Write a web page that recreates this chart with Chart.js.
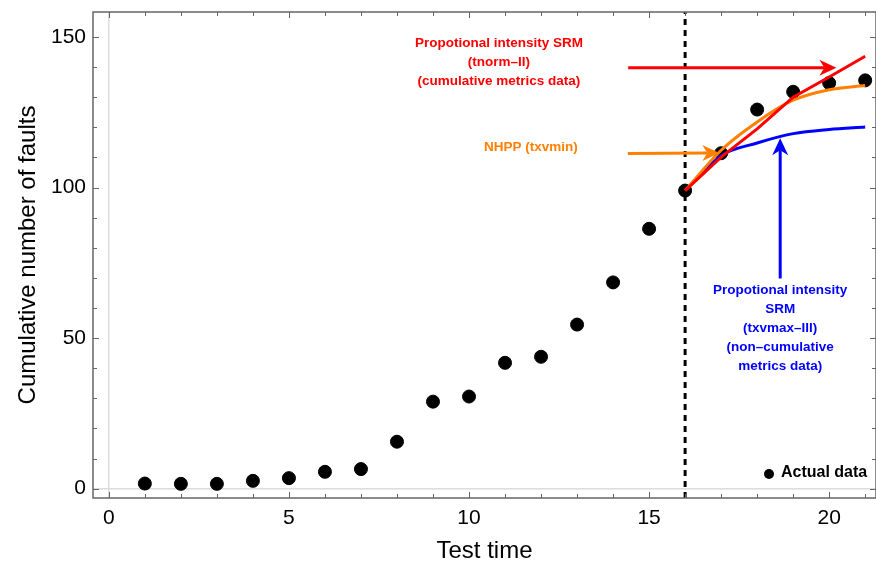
<!DOCTYPE html>
<html lang="en">
<head>
    <meta charset="UTF-8">
    <title>Cumulative number of faults</title>
    <script src="https://cdn.jsdelivr.net/npm/chart.js"></script>
    <style>
        body {
            margin: 0;
            padding: 0;
            background: #fff;
            overflow: hidden;
        }
        canvas {
            display: block;
        }
    </style>
</head>
<body>

<canvas id="faultChart" width="876" height="566"></canvas>

<script>
    // actual data
    const testTime = [1, 2, 3, 4, 5, 6, 7, 8, 9, 10, 11, 12, 13, 14, 15, 16, 17, 18, 19, 20, 21];
    const actualFaults = [1.7, 1.6, 1.6, 2.6, 3.5, 5.6, 6.5, 15.6, 28.9, 30.6, 41.8, 43.8, 54.5, 68.5, 86.3, 99, 111.4, 125.9, 131.8, 134.7, 135.6];

    // predictions after the cut-off
    const predTime = [16, 17, 18, 19, 20, 21];
    const srmCumulative = [99, 110.1, 119.5, 130, 136.7, 143.6];   // red, tnorm-II
    const nhppTxvmin = [99, 112.4, 121.8, 129, 132.5, 133.9];      // orange
    const srmNonCumulative = [99, 110.6, 114.8, 117.9, 119.3, 120.1]; // blue, txvmax-III

    const cutoffTime = 16;

    const xMajorTicks = [0, 5, 10, 15, 20];
    const yMajorTicks = [0, 50, 100, 150];

    const X_MIN = -0.44, X_MAX = 21.3;
    const Y_MIN = -3.1, Y_MAX = 158.3;

    // annotations (data coordinates)
    const arrows = [
        { color: '#ff0000', x: [14.42, 20.2], y: [139.8, 139.8] },
        { color: '#ff8000', x: [14.41, 16.95], y: [111.3, 111.5] },
        { color: '#0000ff', x: [18.64, 18.64], y: [69.8, 116.4] }
    ];
    const notes = [
        { color: '#ff0000', x: 10.83, y: 147.9, lines: ['Propotional intensity SRM', '(tnorm\u2013II)', '(cumulative metrics data)'] },
        { color: '#ff8000', x: 11.72, y: 113.3, lines: ['NHPP (txvmin)'] },
        { color: '#0000ff', x: 18.64, y: 65.9, lines: ['Propotional intensity', 'SRM', '(txvmax\u2013III)', '(non\u2013cumulative', 'metrics data)'] }
    ];

    const FONT = '"Liberation Sans", Arial, sans-serif';

    function drawArrowHead(ctx, x0, y0, x1, y1, color) {
        const ang = Math.atan2(y1 - y0, x1 - x0);
        const len = 17, half = 8, notch = 5;
        ctx.save();
        ctx.translate(x1, y1);
        ctx.rotate(ang);
        ctx.fillStyle = color;
        ctx.beginPath();
        ctx.moveTo(0, 0);
        ctx.lineTo(-len, -half);
        ctx.lineTo(-len + notch, 0);
        ctx.lineTo(-len, half);
        ctx.closePath();
        ctx.fill();
        ctx.restore();
    }

    const framePlugin = {
        id: 'frame',
        afterDatasetsDraw(chart) {
            const ctx = chart.ctx;
            const xs = chart.scales.x, ys = chart.scales.y;
            const a = chart.chartArea;

            // arrows
            arrows.forEach(ar => {
                const x0 = xs.getPixelForValue(ar.x[0]), y0 = ys.getPixelForValue(ar.y[0]);
                const x1 = xs.getPixelForValue(ar.x[1]), y1 = ys.getPixelForValue(ar.y[1]);
                const ang = Math.atan2(y1 - y0, x1 - x0);
                ctx.save();
                ctx.strokeStyle = ar.color;
                ctx.lineWidth = 3;
                ctx.beginPath();
                ctx.moveTo(x0, y0);
                ctx.lineTo(x1 - 12 * Math.cos(ang), y1 - 12 * Math.sin(ang));
                ctx.stroke();
                ctx.restore();
                drawArrowHead(ctx, x0, y0, x1, y1, ar.color);
            });

            // text notes
            ctx.save();
            ctx.font = 'bold 13.5px ' + FONT;
            ctx.textAlign = 'center';
            ctx.textBaseline = 'middle';
            notes.forEach(n => {
                ctx.fillStyle = n.color;
                const cx = xs.getPixelForValue(n.x), cy = ys.getPixelForValue(n.y);
                n.lines.forEach((line, i) => ctx.fillText(line, cx, cy + i * 19));
            });
            ctx.restore();

            // legend
            ctx.save();
            ctx.fillStyle = '#000';
            ctx.beginPath();
            ctx.arc(769, 474, 5, 0, Math.PI * 2);
            ctx.fill();
            ctx.font = 'bold 16px ' + FONT;
            ctx.textBaseline = 'middle';
            ctx.fillText('Actual data', 781, 473);
            ctx.restore();

            // frame and inward ticks
            ctx.save();
            ctx.strokeStyle = '#666';
            ctx.lineWidth = 1.5;
            ctx.strokeRect(a.left, a.top, a.right - a.left, a.bottom - a.top);
            ctx.lineWidth = 1;
            ctx.beginPath();
            for (let v = 0; v <= 21; v++) {
                const px = Math.round(xs.getPixelForValue(v)) + 0.5;
                const len = v % 5 === 0 ? 6 : 4;
                ctx.moveTo(px, a.bottom); ctx.lineTo(px, a.bottom - len);
                ctx.moveTo(px, a.top); ctx.lineTo(px, a.top + len);
            }
            for (let v = 0; v <= 150; v += 10) {
                const py = Math.round(ys.getPixelForValue(v)) + 0.5;
                const len = v % 50 === 0 ? 6 : 4;
                ctx.moveTo(a.left, py); ctx.lineTo(a.left + len, py);
                ctx.moveTo(a.right, py); ctx.lineTo(a.right - len, py);
            }
            ctx.stroke();
            ctx.restore();
        }
    };

    function toPoints(xv, yv) {
        return xv.map((x, i) => ({ x: x, y: yv[i] }));
    }

    const ctx = document.getElementById('faultChart').getContext('2d');
    new Chart(ctx, {
        type: 'scatter',
        data: {
            datasets: [
                {
                    label: 'Actual data',
                    data: toPoints(testTime, actualFaults),
                    backgroundColor: '#000',
                    borderColor: '#000',
                    pointRadius: 6.5,
                    order: 10
                },
                {
                    label: 'cutoff',
                    data: [{ x: cutoffTime, y: Y_MIN }, { x: cutoffTime, y: Y_MAX }],
                    showLine: true,
                    borderColor: '#000',
                    borderWidth: 3,
                    borderDash: [6, 5],
                    pointRadius: 0,
                    order: 9
                },
                {
                    label: 'SRM non-cumulative',
                    data: toPoints(predTime, srmNonCumulative),
                    showLine: true,
                    borderColor: '#0000ff',
                    borderWidth: 3,
                    pointRadius: 0,
                    cubicInterpolationMode: 'monotone',
                    order: 3
                },
                {
                    label: 'NHPP',
                    data: toPoints(predTime, nhppTxvmin),
                    showLine: true,
                    borderColor: '#ff8000',
                    borderWidth: 3,
                    pointRadius: 0,
                    cubicInterpolationMode: 'monotone',
                    order: 2
                },
                {
                    label: 'SRM cumulative',
                    data: toPoints(predTime, srmCumulative),
                    showLine: true,
                    borderColor: '#ff0000',
                    borderWidth: 3,
                    pointRadius: 0,
                    order: 1
                }
            ]
        },
        options: {
            responsive: false,
            animation: false,
            devicePixelRatio: 1,
            layout: { autoPadding: false, padding: { top: 12, right: 0, left: 0, bottom: 0 } },
            plugins: {
                legend: { display: false },
                tooltip: { enabled: false }
            },
            scales: {
                x: {
                    type: 'linear',
                    min: X_MIN,
                    max: X_MAX,
                    afterBuildTicks: s => { s.ticks = xMajorTicks.map(v => ({ value: v })); },
                    afterFit: s => { s.height = 68; s.paddingLeft = 0; s.paddingRight = 0; },
                    border: { display: false },
                    grid: {
                        drawTicks: false,
                        color: c => (c.tick && c.tick.value === 0 ? '#dcdcdc' : 'transparent'),
                        lineWidth: 1.5
                    },
                    ticks: {
                        color: '#000',
                        padding: 8,
                        font: { family: FONT, size: 21 },
                        maxRotation: 0
                    },
                    title: {
                        display: true,
                        text: 'Test time',
                        color: '#000',
                        font: { family: FONT, size: 24 },
                        padding: { top: 4, bottom: 0 }
                    }
                },
                y: {
                    type: 'linear',
                    min: Y_MIN,
                    max: Y_MAX,
                    afterBuildTicks: s => { s.ticks = yMajorTicks.map(v => ({ value: v })); },
                    afterFit: s => { s.width = 93; s.paddingTop = 0; s.paddingBottom = 0; },
                    border: { display: false },
                    grid: {
                        drawTicks: false,
                        color: c => (c.tick && c.tick.value === 0 ? '#dcdcdc' : 'transparent'),
                        lineWidth: 1.5
                    },
                    ticks: {
                        color: '#000',
                        padding: 7,
                        font: { family: FONT, size: 21 }
                    },
                    title: {
                        display: true,
                        text: 'Cumulative number of faults',
                        color: '#000',
                        font: { family: FONT, size: 24 },
                        padding: { top: 14, bottom: 4 }
                    }
                }
            }
        },
        plugins: [framePlugin]
    });
</script>
</body>
</html>
